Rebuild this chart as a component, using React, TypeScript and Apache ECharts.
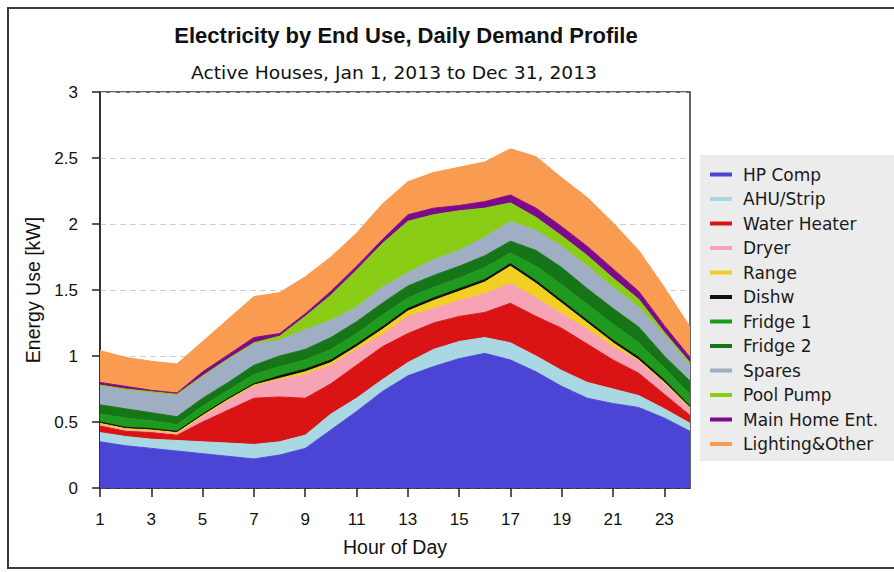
import React, { useEffect, useRef } from "react";
import * as echarts from "echarts";

const hours = ["1","2","3","4","5","6","7","8","9","10","11","12","13","14","15","16","17","18","19","20","21","22","23","24"];

const seriesNames = ["HP Comp","AHU/Strip","Water Heater","Dryer","Range","Dishw","Fridge 1","Fridge 2","Spares","Pool Pump","Main Home Ent.","Lighting&Other"];
const seriesColors = ["#4B45D6","#A9D8E2","#DA1414","#F5A3B5","#F2D022","#111111","#1F9A1F","#167516","#9FAEC2","#8ACD16","#7D0A8C","#F99B50"];

const hpComp = [0.35,0.32,0.30,0.28,0.26,0.24,0.22,0.25,0.30,0.44,0.58,0.73,0.85,0.92,0.98,1.02,0.97,0.88,0.77,0.68,0.64,0.61,0.53,0.43];
const ahuStrip = [0.07,0.07,0.07,0.08,0.09,0.10,0.11,0.10,0.10,0.12,0.10,0.09,0.10,0.13,0.13,0.12,0.13,0.12,0.12,0.12,0.11,0.09,0.07,0.06];
const waterHeater = [0.05,0.04,0.05,0.04,0.15,0.25,0.35,0.34,0.28,0.23,0.25,0.25,0.22,0.20,0.19,0.19,0.30,0.30,0.32,0.29,0.22,0.17,0.11,0.06];
const dryer = [0.01,0.01,0.01,0.01,0.04,0.07,0.09,0.13,0.18,0.14,0.12,0.09,0.13,0.11,0.12,0.14,0.15,0.14,0.11,0.11,0.10,0.09,0.08,0.05];
const range = [0.01,0.01,0.01,0.01,0.01,0.01,0.01,0.01,0.02,0.02,0.02,0.04,0.04,0.06,0.07,0.09,0.13,0.11,0.08,0.05,0.03,0.01,0.01,0.01];
const dishw = [0.01,0.01,0.01,0.01,0.01,0.01,0.01,0.02,0.02,0.02,0.02,0.02,0.02,0.02,0.02,0.02,0.02,0.02,0.02,0.02,0.02,0.02,0.02,0.01];
const fridge1 = [0.06,0.07,0.06,0.05,0.06,0.06,0.07,0.07,0.07,0.08,0.08,0.09,0.08,0.08,0.08,0.09,0.08,0.11,0.12,0.12,0.12,0.11,0.09,0.09];
const fridge2 = [0.07,0.07,0.06,0.06,0.06,0.06,0.07,0.08,0.08,0.09,0.09,0.09,0.09,0.09,0.09,0.09,0.09,0.12,0.13,0.12,0.12,0.12,0.09,0.10];
const spares = [0.14,0.14,0.15,0.16,0.16,0.17,0.16,0.12,0.15,0.13,0.11,0.12,0.10,0.12,0.12,0.14,0.15,0.15,0.16,0.17,0.16,0.15,0.16,0.12];
const poolPump = [0.01,0.01,0.01,0.01,0.01,0.01,0.01,0.03,0.10,0.19,0.28,0.33,0.39,0.34,0.30,0.22,0.14,0.10,0.08,0.08,0.07,0.06,0.02,0.02];
const mainHomeEnt = [0.02,0.02,0.01,0.01,0.03,0.03,0.04,0.02,0.02,0.03,0.03,0.03,0.05,0.05,0.04,0.05,0.06,0.07,0.07,0.07,0.07,0.06,0.05,0.04];
const lightingOther = [0.24,0.22,0.22,0.22,0.23,0.27,0.31,0.31,0.28,0.26,0.25,0.27,0.25,0.27,0.29,0.30,0.35,0.39,0.37,0.37,0.35,0.31,0.29,0.23];

const seriesValues = [hpComp, ahuStrip, waterHeater, dryer, range, dishw, fridge1, fridge2, spares, poolPump, mainHomeEnt, lightingOther];

const titleText = "Electricity by End Use, Daily Demand Profile";
const subtitleText = "Active Houses, Jan 1, 2013 to Dec 31, 2013";
const xAxisName = "Hour of Day";
const yAxisName = "Energy Use [kW]";

export default function App() {
  const ref = useRef<HTMLDivElement>(null);
  useEffect(() => {
    if (!ref.current) return;
    const chart = echarts.init(ref.current, null, { renderer: "svg" });
    const sans = "'Liberation Sans', Arial, sans-serif";
    chart.setOption({
      animation: false,
      backgroundColor: "#ffffff",
      graphic: [
        { type: "rect", z: 0, shape: { x: 8, y: 8, width: 900, height: 560 }, style: { fill: "none", stroke: "#3a3a3a", lineWidth: 2 } },
        { type: "rect", z: 0, shape: { x: 700, y: 155, width: 200, height: 306 }, style: { fill: "#ECECEC", stroke: "none" } },
        { type: "text", z: 5, x: 406, y: 35, style: { text: titleText, fill: "#111", font: "bold 22px 'Liberation Sans', Arial, sans-serif", align: "center", verticalAlign: "middle" } },
        { type: "text", z: 5, x: 394, y: 73, scaleX: 1.1, style: { text: subtitleText, fill: "#111", font: "17px 'DejaVu Sans', Verdana, sans-serif", align: "center", verticalAlign: "middle" } },
      ],
      legend: {
        orient: "vertical",
        left: 710,
        top: 166,
        padding: 0,
        icon: "rect",
        itemWidth: 22,
        itemHeight: 4,
        itemGap: 7.5,
        data: seriesNames,
        textStyle: { fontFamily: "'DejaVu Sans', Verdana, sans-serif", fontSize: 17, color: "#1a1a1a", padding: [0, 0, 0, 6], lineHeight: 17 },
      },
      grid: { left: 100, right: 204, top: 92, bottom: 84, show: true, borderColor: "#333", borderWidth: 1.5, backgroundColor: "transparent" },
      xAxis: {
        type: "category",
        data: hours,
        boundaryGap: false,
        name: xAxisName,
        nameLocation: "middle",
        nameGap: 49,
        nameTextStyle: { fontFamily: sans, fontSize: 19.5, color: "#111" },
        axisLine: { lineStyle: { color: "#222", width: 1.5 } },
        axisTick: { interval: 1, length: 9, lineStyle: { color: "#222", width: 1.5 } },
        axisLabel: { interval: 1, margin: 23, fontFamily: sans, fontSize: 17, color: "#111" },
        splitLine: { show: false },
      },
      yAxis: {
        type: "value",
        min: 0,
        max: 3,
        interval: 0.5,
        name: yAxisName,
        nameLocation: "middle",
        nameGap: 50,
        nameTextStyle: { fontFamily: sans, fontSize: 19.5, color: "#111" },
        axisLine: { show: true, lineStyle: { color: "#222", width: 1.5 } },
        axisTick: { show: true, length: 8, lineStyle: { color: "#222", width: 1.5 } },
        axisLabel: { margin: 22, fontFamily: sans, fontSize: 17, color: "#111" },
        splitLine: { show: true, lineStyle: { color: "#d0d0d0", type: [6, 4], width: 1 } },
      },
      series: seriesNames.map((name, i) => ({
        name,
        type: "line",
        stack: "total",
        data: seriesValues[i],
        symbol: "none",
        color: seriesColors[i],
        itemStyle: { color: seriesColors[i] },
        lineStyle: { color: seriesColors[i], width: 1 },
        areaStyle: { color: seriesColors[i], opacity: 1 },
      })),
    });
    return () => chart.dispose();
  }, []);
  return <div ref={ref} style={{ position: "fixed", left: 0, top: 0, width: 894, height: 572 }} />;
}
